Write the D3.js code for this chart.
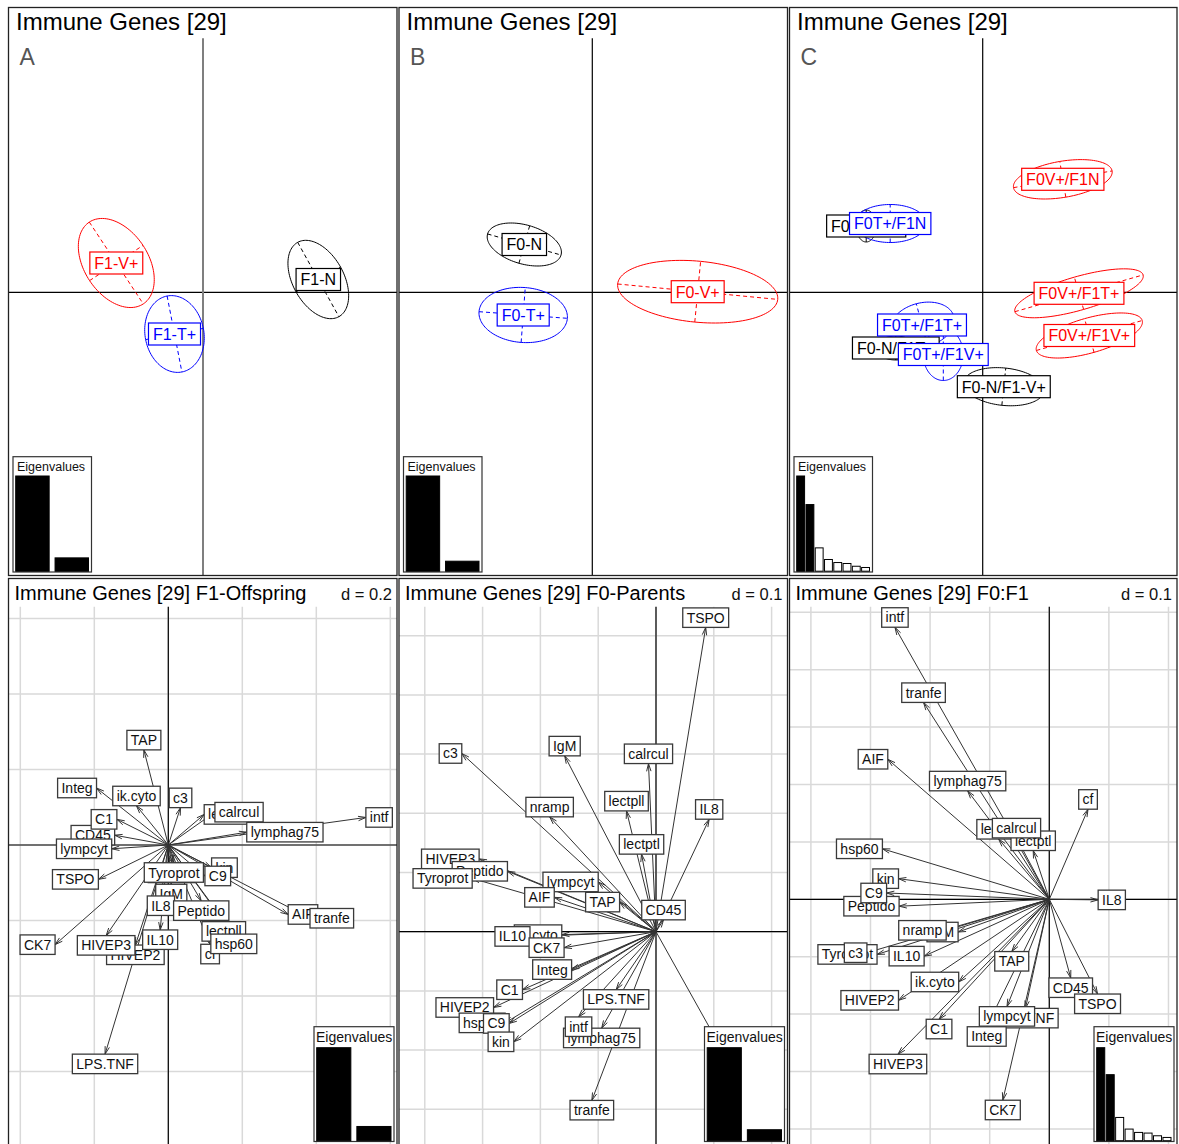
<!DOCTYPE html>
<html><head><meta charset="utf-8">
<script src="https://cdn.jsdelivr.net/npm/d3@7"></script>
<style>body{margin:0;background:#fff}svg{display:block}</style>
</head><body>
<svg id="c" width="1179" height="1144"></svg>
<script>
// ================= DATA =================
const topTitle = "Immune Genes [29]";
const panelLetters = ["A", "B", "C"];
const treatments = ["N", "T+", "V+"];

// Panel A : F1 offspring classes (class means, ellipse semi-axes, ellipse angle in degrees)
const classA = ["F1-V+", "F1-T+", "F1-N"];
const trtA = ["V+", "T+", "N"];
const meanXA = [-0.867, -0.285, 1.153];
const meanYA = [0.293, -0.417, 0.128];
const majorA = [0.49, 0.387, 0.425];
const minorA = [0.32, 0.294, 0.255];
const angleA = [-56.6, -79, -61];
const eigA = [1, 0.14];

// Panel B : F0 parents classes
const classB = ["F0-N", "F0-T+", "F0-V+"];
const trtB = ["N", "T+", "V+"];
const meanXB = [-0.680, -0.691, 1.054];
const meanYB = [0.478, -0.227, 0.006];
const majorB = [0.382, 0.443, 0.804];
const minorB = [0.195, 0.275, 0.305];
const angleB = [-16, -4.3, -5.5];
const eigB = [1, 0.105];

// Panel C : F0:F1 classes
const classC = ["F0-N/F1-V+", "F0-N/F1N", "F0-N/F1T+", "F0T+/F1N", "F0T+/F1T+", "F0T+/F1V+", "F0V+/F1N", "F0V+/F1T+", "F0V+/F1V+"];
const trtC = ["N", "N", "N", "T+", "T+", "T+", "V+", "V+", "V+"];
const meanXC = [0.211, -1.165, -0.869, -0.925, -0.607, -0.394, 0.801, 0.963, 1.066];
const meanYC = [-0.944, 0.663, -0.557, 0.688, -0.327, -0.622, 1.13, -0.01, -0.432];
const majorC = [0.405, 0.16, 0.2, 0.36, 0.33, 0.26, 0.50, 0.667, 0.55];
const minorC = [0.187, 0.10, 0.12, 0.19, 0.22, 0.20, 0.181, 0.168, 0.175];
const angleC = [-6, 90, 0, 0, 15, 90, 9.6, 16, 15.8];
const eigC = [1, 0.70, 0.245, 0.123, 0.091, 0.081, 0.052, 0.039];

// axis limits of the top panels
const xlimA = [-1.945, 1.94], xlimB = [-1.933, 1.952], xlimC = [-1.932, 1.943];
const ylimTop = [-2.832, 2.848];

// Bottom panels : gene loadings
const bottomTitles = ["Immune Genes [29] F1-Offspring", "Immune Genes [29] F0-Parents", "Immune Genes [29] F0:F1"];
const gridD = [0.2, 0.1, 0.1];

const genesD = ["TAP","Integ","ik.cyto","c3","lectptl","calrcul","intf","lymphag75","CD45","C1","lympcyt","TSPO","nramp","Tyroprot","kin","C9","IgM","IL8","Peptido","AIF","tranfe","lectpll","cf","hsp60","HIVEP2","CK7","HIVEP3","IL10","LPS.TNF"];
const xD = [-0.066,-0.194,-0.086,0.033,0.097,0.126,0.534,0.212,-0.145,-0.139,-0.153,-0.189,0.010,0.015,0.117,0.099,0.008,-0.020,0.089,0.324,0.383,0.150,0.113,0.177,-0.089,-0.306,-0.168,-0.022,-0.171];
const yD = [0.252,0.151,0.104,0.099,0.081,0.087,0.073,0.034,0.026,0.068,-0.010,-0.091,-0.048,-0.047,-0.060,-0.082,-0.104,-0.135,-0.148,-0.184,-0.194,-0.203,-0.263,-0.236,-0.265,-0.264,-0.240,-0.225,-0.554];
const eigD = [1, 0.153];

const genesE = ["TSPO","c3","IgM","calrcul","nramp","lectpll","IL8","lectptl","HIVEP3","Peptido","Tyroprot","lympcyt","AIF","TAP","cf","CD45","ik.cyto","IL10","CK7","Integ","C1","HIVEP2","hsp60","C9","kin","LPS.TNF","lymphag75","intf","tranfe"];
const xE = [0.086,-0.336,-0.158,-0.013,-0.184,-0.051,0.092,-0.025,-0.306,-0.257,-0.318,-0.100,-0.176,-0.063,0.119,0.013,-0.163,-0.218,-0.159,-0.146,-0.231,-0.281,-0.261,-0.254,-0.246,-0.069,-0.094,-0.134,-0.111];
const yE = [0.514,0.301,0.297,0.284,0.194,0.204,0.190,0.131,0.123,0.102,0.090,0.084,0.058,0.050,-0.208,0.020,-0.005,-0.008,-0.027,-0.064,-0.098,-0.128,-0.154,-0.155,-0.186,-0.098,-0.163,-0.144,-0.285];
const eigE = [1, 0.118];

const genesF = ["intf","tranfe","AIF","lymphag75","cf","lectpll","lectptl","calrcul","hsp60","kin","Peptido","C9","IL8","IgM","nramp","Tyroprot","c3","IL10","TAP","ik.cyto","HIVEP2","CD45","TSPO","C1","LPS.TNF","Integ","lympcyt","HIVEP3","CK7"];
const xF = [-0.259,-0.211,-0.271,-0.137,0.065,-0.085,-0.027,-0.055,-0.280,-0.253,-0.252,-0.273,0.082,-0.153,-0.173,-0.289,-0.306,-0.210,-0.063,-0.152,-0.253,0.036,0.081,-0.185,-0.040,-0.105,-0.071,-0.254,-0.078];
const yF = [0.474,0.343,0.244,0.189,0.157,0.105,0.085,0.107,0.088,0.036,-0.012,0.011,-0.001,-0.057,-0.054,-0.096,-0.093,-0.099,-0.091,-0.144,-0.176,-0.137,-0.165,-0.209,-0.190,-0.222,-0.187,-0.270,-0.350];
const eigF = [1, 0.71, 0.25, 0.125, 0.089, 0.082, 0.053, 0.035];

// axis limits of the bottom panels
const xlimD = [-0.4319, 0.6181], ylimD = [-0.8, 0.706];
const xlimE = [-0.4446, 0.2275], ylimE = [-0.3637, 0.5966];
const xlimF = [-0.4359, 0.2143], ylimF = [-0.4315, 0.5589];

// ================= DRAWING =================
const FONT = "'Liberation Sans', Arial, Helvetica, sans-serif";
const NB = "\u00a0";
const svg = d3.select("#c");
const cols = [[8.5, 397], [399, 787.5], [789.5, 1177]];
const topRow = [7.5, 575.5], botRow = [578.5, 1147];
const trtColor = d3.scaleOrdinal().domain(treatments).range(["#000000", "#0000ff", "#ff0000"]);
const defs = svg.append("defs");
const meas = svg.append("text").attr("font-family", FONT).attr("visibility", "hidden");
function tw(s, size) { meas.attr("font-size", size).text(s); return meas.node().getComputedTextLength(); }

function clipFor(id, x0, y0, x1, y1) {
  defs.append("clipPath").attr("id", id).append("rect")
    .attr("x", x0).attr("y", y0).attr("width", x1 - x0).attr("height", y1 - y0);
  return `url(#${id})`;
}

function eigenInset(g, eig, bx, by, bw, bh, fs, textTop, textLeft) {
  g.append("rect").attr("x", bx).attr("y", by).attr("width", bw).attr("height", bh)
    .attr("fill", "#fff").attr("stroke", "#333").attr("stroke-width", 1.2);
  g.append("text").attr("x", bx + textLeft).attr("y", by + textTop).attr("font-size", fs)
    .attr("font-family", FONT).attr("fill", "#111").text("Eigenvalues");
  const xb = d3.scaleBand().domain(d3.range(eig.length)).range([bx + 2.7, bx + bw - 3]).paddingInner(0.15);
  const barTop = by + textTop + 5.5, barBot = by + bh - 0.8;
  const yb = d3.scaleLinear().domain([0, d3.max(eig)]).range([barBot, barTop]);
  g.selectAll(null).data(eig).enter().append("rect")
    .attr("x", (d, i) => xb(i)).attr("width", xb.bandwidth())
    .attr("y", d => yb(d)).attr("height", d => barBot - yb(d))
    .attr("fill", (d, i) => i < 2 ? "#000" : "#fff").attr("stroke", "#000").attr("stroke-width", 1);
}

// ---------- top panels ----------
const topPanels = [
  { cls: classA, trt: trtA, mx: meanXA, my: meanYA, a: majorA, b: minorA, ang: angleA, eig: eigA, xlim: xlimA, vcol: "#7f7f7f", vw: 2 },
  { cls: classB, trt: trtB, mx: meanXB, my: meanYB, a: majorB, b: minorB, ang: angleB, eig: eigB, xlim: xlimB, vcol: "#000", vw: 1.2 },
  { cls: classC, trt: trtC, mx: meanXC, my: meanYC, a: majorC, b: minorC, ang: angleC, eig: eigC, xlim: xlimC, vcol: "#000", vw: 1.2 }
];

topPanels.forEach((p, i) => {
  const [x0, x1] = cols[i], [y0, y1] = topRow;
  const g = svg.append("g").attr("clip-path", clipFor("ct" + i, x0, y0, x1, y1));
  const x = d3.scaleLinear().domain(p.xlim).range([x0, x1]);
  const y = d3.scaleLinear().domain(ylimTop).range([y1, y0]);
  g.append("rect").attr("x", x0).attr("y", y0).attr("width", x1 - x0).attr("height", y1 - y0).attr("fill", "#fff");
  g.append("line").attr("x1", x0).attr("x2", x1).attr("y1", y(0)).attr("y2", y(0)).attr("stroke", "#000").attr("stroke-width", 1.2);
  g.append("line").attr("x1", x(0)).attr("x2", x(0)).attr("y1", 38.3).attr("y2", y1).attr("stroke", p.vcol).attr("stroke-width", p.vw);

  // ellipses
  p.cls.forEach((c, j) => {
    const col = trtColor(p.trt[j]);
    const th = p.ang[j] * Math.PI / 180, A = p.a[j], B = p.b[j], cx = p.mx[j], cy = p.my[j];
    const pts = d3.range(0, 361, 3).map(t => {
      const r = t * Math.PI / 180, ex = A * Math.cos(r), ey = B * Math.sin(r);
      return [x(cx + ex * Math.cos(th) - ey * Math.sin(th)), y(cy + ex * Math.sin(th) + ey * Math.cos(th))];
    });
    g.append("path").attr("d", d3.line()(pts)).attr("fill", "none").attr("stroke", col).attr("stroke-width", 1);
    [[A * Math.cos(th), A * Math.sin(th)], [-B * Math.sin(th), B * Math.cos(th)]].forEach(([dx, dy]) => {
      g.append("line").attr("x1", x(cx - dx)).attr("y1", y(cy - dy)).attr("x2", x(cx + dx)).attr("y2", y(cy + dy))
        .attr("stroke", col).attr("stroke-width", 1).attr("stroke-dasharray", "4,3");
    });
  });
  // class labels
  p.cls.forEach((c, j) => {
    const col = trtColor(p.trt[j]);
    const w = tw(NB + c + NB, 16), h = 22;
    const px = x(p.mx[j]), py = y(p.my[j]);
    g.append("rect").attr("x", px - w / 2).attr("y", py - h / 2).attr("width", w).attr("height", h)
      .attr("fill", "#fff").attr("stroke", col).attr("stroke-width", 1.2);
    g.append("text").attr("x", px).attr("y", py + 5.8).attr("text-anchor", "middle").attr("font-size", 16)
      .attr("font-family", FONT).attr("fill", col).text(c);
  });
  eigenInset(g, p.eig, x0 + 4.5, 456.7, 78.5, 115.3, 12.5, 13.8, 4);
  g.append("text").attr("x", x0 + 7.5).attr("y", 30).attr("font-size", 24).attr("font-family", FONT).attr("fill", "#000").text(topTitle);
  g.append("text").attr("x", x0 + 11).attr("y", 64.5).attr("font-size", 23).attr("font-family", FONT).attr("fill", "#555").text(panelLetters[i]);
  svg.append("rect").attr("x", x0).attr("y", y0).attr("width", x1 - x0).attr("height", y1 - y0)
    .attr("fill", "none").attr("stroke", "#222").attr("stroke-width", 1.3);
});

// ---------- bottom panels ----------
const botPanels = [
  { genes: genesD, gx: xD, gy: yD, eig: eigD, xlim: xlimD, ylim: ylimD },
  { genes: genesE, gx: xE, gy: yE, eig: eigE, xlim: xlimE, ylim: ylimE },
  { genes: genesF, gx: xF, gy: yF, eig: eigF, xlim: xlimF, ylim: ylimF }
];
const band = 606.5;

botPanels.forEach((p, i) => {
  const [x0, x1] = cols[i], [y0, y1] = botRow;
  const d = gridD[i];
  const g = svg.append("g").attr("clip-path", clipFor("cb" + i, x0, y0, x1, y1));
  const x = d3.scaleLinear().domain(p.xlim).range([x0, x1]);
  const y = d3.scaleLinear().domain(p.ylim).range([y1, y0]);
  g.append("rect").attr("x", x0).attr("y", y0).attr("width", x1 - x0).attr("height", y1 - y0).attr("fill", "#fff");
  const gxs = d3.range(Math.ceil(p.xlim[0] / d - 1e-6), Math.floor(p.xlim[1] / d + 1e-6) + 1).map(k => k * d);
  const gys = d3.range(Math.ceil(p.ylim[0] / d - 1e-6), Math.floor(p.ylim[1] / d + 1e-6) + 1).map(k => k * d);
  const gg = g.append("g").attr("stroke", "#d9d9d9").attr("stroke-width", 1.5);
  gxs.forEach(v => gg.append("line").attr("x1", x(v)).attr("x2", x(v)).attr("y1", band).attr("y2", y1));
  gys.filter(v => y(v) > band).forEach(v => gg.append("line").attr("x1", x0).attr("x2", x1).attr("y1", y(v)).attr("y2", y(v)));
  g.append("line").attr("x1", x0).attr("x2", x1).attr("y1", y(0)).attr("y2", y(0)).attr("stroke", "#000").attr("stroke-width", 1.2);
  g.append("line").attr("x1", x(0)).attr("x2", x(0)).attr("y1", band).attr("y2", y1).attr("stroke", "#000").attr("stroke-width", 1.2);

  // arrows
  const ox = x(0), oy = y(0);
  const ag = g.append("g").attr("stroke", "#333").attr("stroke-width", 1).attr("fill", "none");
  p.genes.forEach((gn, j) => {
    const tx = x(p.gx[j]), ty = y(p.gy[j]);
    ag.append("line").attr("x1", ox).attr("y1", oy).attr("x2", tx).attr("y2", ty);
    const ang = Math.atan2(ty - oy, tx - ox), L = 8, da = 16 * Math.PI / 180;
    const path = d3.path();
    path.moveTo(tx - L * Math.cos(ang - da), ty - L * Math.sin(ang - da));
    path.lineTo(tx, ty);
    path.lineTo(tx - L * Math.cos(ang + da), ty - L * Math.sin(ang + da));
    ag.append("path").attr("d", path.toString());
  });
  // labels (placed outward from the arrow tip)
  p.genes.forEach((gn, j) => {
    const xr = p.gx[j], yr = p.gy[j];
    const w = tw(NB + gn + NB, 14), h = 19.5;
    const tx = x(xr), ty = y(yr);
    let cx, cy;
    if (xr > yr && xr > -yr) { cx = tx + w / 2; cy = ty; }
    else if (xr > yr && xr <= -yr) { cx = tx; cy = ty + h / 2; }
    else if (xr <= yr && xr <= -yr) { cx = tx - w / 2; cy = ty; }
    else { cx = tx; cy = ty - h / 2; }
    g.append("rect").attr("x", cx - w / 2).attr("y", cy - h / 2).attr("width", w).attr("height", h)
      .attr("fill", "#fff").attr("stroke", "#3a3a3a").attr("stroke-width", 1.3);
    g.append("text").attr("x", cx).attr("y", cy + 5).attr("text-anchor", "middle").attr("font-size", 14)
      .attr("font-family", FONT).attr("fill", "#111").text(gn);
  });
  eigenInset(g, p.eig, x1 - 83, 1026.7, 80, 114.8, 14, 15.5, 2);
  // title band
  g.append("rect").attr("x", x0).attr("y", y0).attr("width", x1 - x0).attr("height", band - y0).attr("fill", "#fff");
  g.append("text").attr("x", x0 + 6).attr("y", 600).attr("font-size", 20).attr("font-family", FONT).attr("fill", "#000").text(bottomTitles[i]);
  g.append("text").attr("x", x1 - 5).attr("y", 600).attr("text-anchor", "end").attr("font-size", 16.5).attr("font-family", FONT).attr("fill", "#111").text("d = " + d);
  svg.append("rect").attr("x", x0).attr("y", y0).attr("width", x1 - x0).attr("height", y1 - y0)
    .attr("fill", "none").attr("stroke", "#222").attr("stroke-width", 1.3);
});
meas.remove();
</script>
</body></html>
